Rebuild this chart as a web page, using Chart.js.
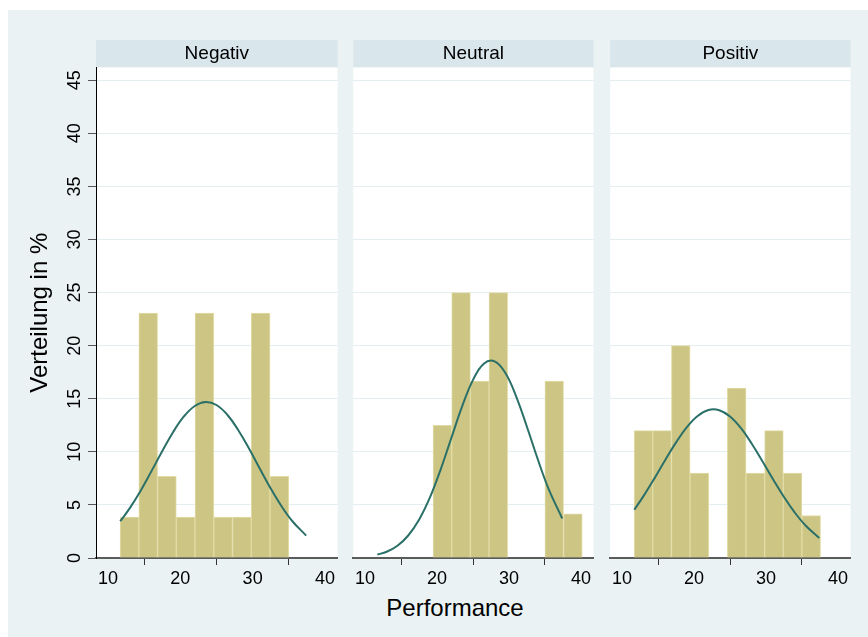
<!DOCTYPE html>
<html>
<head>
<meta charset="utf-8">
<script src="https://cdn.jsdelivr.net/npm/chart.js@4.4.1/dist/chart.umd.min.js"></script>
<style>
  body { margin: 0; background: #fff; font-family: 'Liberation Sans', Arial, sans-serif; }
  #graph { position: absolute; left: 8px; top: 10px; width: 860px; height: 627px; background: #eaf2f3; }
  .panel { position: absolute; top: 40px; height: 548px; }
  #xtitle { position: absolute; left: 355px; width: 200px; top: 596px; text-align: center; font-size: 24px; line-height: 24px; color: #000; }
</style>
</head>
<body>
<div id="graph"></div>
<div class="panel" style="left:8px;width:330px"><canvas id="negativ"></canvas></div>
<div class="panel" style="left:352px;width:242px"><canvas id="neutral"></canvas></div>
<div class="panel" style="left:609px;width:242px"><canvas id="positiv"></canvas></div>
<div id="xtitle">Performance</div>
<script>
// bin centres shared by all three groups (width about 2.59)
var binCenters = [12.975, 15.565, 18.155, 20.745, 23.335, 25.925, 28.515, 31.105, 33.695, 36.285, 38.875];

// percent per bin, null = no bar
var negativBars = [3.85, 23.08, 7.69, 3.85, 23.08, 3.85, 3.85, 23.08, 7.69, null, null];
var neutralBars = [null, null, null, 12.5, 25, 16.67, 25, null, null, 16.67, 4.17];
var positivBars = [12, 12, 20, 8, null, 16, 8, 12, 8, 4, null];

// normal curve
var curveX = [11.7, 13, 14.5, 16, 17.5, 19, 20.5, 22, 23.5, 25, 26.5, 28, 29.5, 31, 32.5, 34, 35.5, 37.4];
var negativCurve = [3.46, 4.67, 6.31, 8.16, 10.05, 11.85, 13.33, 14.32, 14.7, 14.41, 13.49, 12.06, 10.31, 8.41, 6.55, 4.87, 3.46, 2.11];
var neutralCurve = [0.32, 0.59, 1.16, 2.12, 3.6, 5.68, 8.33, 11.33, 14.3, 16.78, 18.3, 18.52, 17.42, 15.21, 12.34, 9.3, 6.51, 3.72];
var positivCurve = [4.55, 5.85, 7.5, 9.23, 10.89, 12.33, 13.38, 13.94, 13.92, 13.33, 12.25, 10.79, 9.12, 7.39, 5.74, 4.28, 3.06, 1.88];

var xTicks = [10, 20, 30, 40];
var yTicks = [0, 5, 10, 15, 20, 25, 30, 35, 40, 45];

Chart.defaults.font.family = "'Liberation Sans', Arial, sans-serif";
Chart.defaults.color = '#000';

var stripPlugin = {
  id: 'strip',
  beforeDraw: function(chart) {
    var ctx = chart.ctx;
    var t = chart.titleBlock;
    var a = chart.chartArea;
    ctx.save();
    ctx.fillStyle = '#d9e6eb';
    ctx.fillRect(t.left, t.top, t.width, t.height);
    ctx.fillStyle = '#fff';
    ctx.fillRect(a.left, a.top, a.right - a.left, a.bottom - a.top);
    ctx.restore();
  }
};

function points(xs, ys) {
  return xs.map(function(x, i) { return { x: x, y: ys[i] }; });
}

function drawPanel(id, name, bars, curve, showY) {
  new Chart(document.getElementById(id), {
    type: 'bar',
    data: {
      datasets: [{
        type: 'line',
        data: points(curveX, curve),
        borderColor: '#2b7068',
        borderWidth: 2,
        pointRadius: 0,
        tension: 0.4,
        order: 0
      }, {
        type: 'bar',
        data: points(binCenters, bars),
        backgroundColor: '#cdc584',
        borderColor: '#e2dca6',
        borderWidth: 1,
        barPercentage: 1,
        categoryPercentage: 1,
        order: 1
      }]
    },
    options: {
      responsive: true,
      maintainAspectRatio: false,
      animation: false,
      devicePixelRatio: 1,
      layout: { padding: 0 },
      plugins: {
        legend: { display: false },
        tooltip: { enabled: false },
        title: {
          display: true,
          text: name,
          fullSize: false,
          color: '#000',
          font: { size: 19, weight: 'normal', lineHeight: 27.5 / 19 },
          padding: 0
        }
      },
      scales: {
        x: {
          type: 'linear',
          min: 8.35,
          max: 41.75,
          offset: false,
          afterBuildTicks: function(s) { s.ticks = xTicks.map(function(v) { return { value: v }; }); },
          afterFit: function(s) { s.height = 30; },
          grid: { drawOnChartArea: false, drawTicks: true, tickLength: 7, tickColor: '#333', tickWidth: 1 },
          border: { color: '#5b5b5b', width: 2 },
          ticks: { font: { size: 18 }, color: '#000', padding: 3, maxRotation: 0, autoSkip: false }
        },
        y: {
          min: 0,
          max: 46.2,
          afterBuildTicks: function(s) { s.ticks = yTicks.map(function(v) { return { value: v }; }); },
          afterFit: function(s) { s.width = showY ? 88 : 0; },
          grid: { color: '#e4edf0', lineWidth: 1, drawTicks: showY, tickLength: 8, tickColor: '#555' },
          border: { display: showY, color: '#000', width: 1 },
          ticks: { display: showY, font: { size: 18 }, color: '#000', minRotation: 90, maxRotation: 90, crossAlign: 'center', padding: 3 },
          title: { display: showY, text: 'Verteilung in %', font: { size: 24 }, color: '#000', padding: { top: 18, bottom: 0 } }
        }
      }
    },
    plugins: [stripPlugin]
  });
}

drawPanel('negativ', 'Negativ', negativBars, negativCurve, true);
drawPanel('neutral', 'Neutral', neutralBars, neutralCurve, false);
drawPanel('positiv', 'Positiv', positivBars, positivCurve, false);
</script>
</body>
</html>
